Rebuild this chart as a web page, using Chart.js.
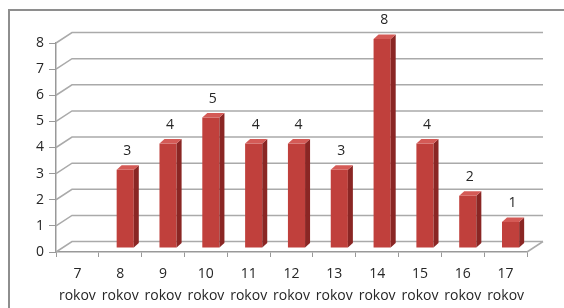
<!DOCTYPE html>
<html>
<head>
<meta charset="utf-8">
<script src="https://cdn.jsdelivr.net/npm/chart.js@4"></script>
<style>
html,body{margin:0;padding:0;background:#fff;}
#wrap{width:564px;height:308px;position:relative;}
</style>
</head>
<body>
<div id="wrap"><canvas id="c" width="564" height="308"></canvas></div>
<script>
const categories = [["7","rokov"],["8","rokov"],["9","rokov"],["10","rokov"],["11","rokov"],["12","rokov"],["13","rokov"],["14","rokov"],["15","rokov"],["16","rokov"],["17","rokov"]];
const counts = [0,3,4,5,4,4,3,8,4,2,1];
const yTicks = [0,1,2,3,4,5,6,7,8];

const DX = 16, DY = 10.5;     // depth of the back wall
const BX = 5, BY = -4;        // bar position in depth
const SX = 5, SY = 4.5;       // bar side / top depth
const FONT = '"Open Sans", Lato, sans-serif';

const threeD = {
  id: 'threeD',
  beforeDraw(chart) {
    const ctx = chart.ctx;
    ctx.save();
    ctx.strokeStyle = '#8e8e8e';
    ctx.lineWidth = 2;
    ctx.strokeRect(9, 10, 700, 400);
    ctx.restore();
  },
  beforeDatasetsDraw(chart) {
    const ctx = chart.ctx, y = chart.scales.y, a = chart.chartArea;
    ctx.save();
    yTicks.forEach(v => {
      const py = y.getPixelForValue(v);
      ctx.strokeStyle = '#aaaaaa';
      ctx.lineWidth = 1.5;
      ctx.beginPath();
      ctx.moveTo(a.left, py);
      ctx.lineTo(a.left + DX, py - DY);
      ctx.lineTo(a.right + DX, py - DY);
      ctx.stroke();
    });
    const p0 = y.getPixelForValue(0);
    ctx.beginPath();
    ctx.moveTo(a.right, p0);
    ctx.lineTo(a.right + DX, p0 - DY);
    ctx.stroke();
    ctx.restore();
  },
  beforeDatasetDraw(chart) {
    chart.ctx.save();
    chart.ctx.translate(BX, BY);
  },
  afterDatasetDraw(chart) {
    chart.ctx.restore();
  },
  afterDatasetsDraw(chart) {
    const ctx = chart.ctx;
    const meta = chart.getDatasetMeta(0);
    ctx.save();
    meta.data.forEach((bar, i) => {
      const v = counts[i];
      const p = bar.getProps(['x','y','base','width'], true);
      const l = p.x - p.width / 2 + BX, r = p.x + p.width / 2 + BX;
      const t = p.y + BY, b = p.base + BY;
      if (v > 0) {
        ctx.fillStyle = '#8a2624';
        ctx.beginPath();
        ctx.moveTo(r, t); ctx.lineTo(r + SX, t - SY); ctx.lineTo(r + SX, b - SY); ctx.lineTo(r, b);
        ctx.closePath(); ctx.fill();
        ctx.fillStyle = '#d45a56';
        ctx.beginPath();
        ctx.moveTo(l, t); ctx.lineTo(l + SX, t - SY); ctx.lineTo(r + SX, t - SY); ctx.lineTo(r, t);
        ctx.closePath(); ctx.fill();
        ctx.fillStyle = '#262626';
        ctx.font = '14px ' + FONT;
        ctx.textAlign = 'center';
        ctx.textBaseline = 'middle';
        ctx.fillText(String(v), (l + r) / 2 + 2, t - SY - 14);
      }
    });
    ctx.restore();
  }
};

new Chart(document.getElementById('c'), {
  type: 'bar',
  data: {
    labels: categories,
    datasets: [{
      data: counts,
      backgroundColor: '#c0403c',
      borderWidth: 0,
      barPercentage: 0.4,
      categoryPercentage: 1.0
    }]
  },
  options: {
    responsive: false,
    animation: false,
    devicePixelRatio: 1,
    layout: { padding: { top: 43, right: 37, left: 0, bottom: 0 } },
    plugins: { legend: { display: false }, tooltip: { enabled: false } },
    scales: {
      x: {
        offset: true,
        grid: { display: true, drawOnChartArea: false, drawTicks: true, tickLength: 5, color: '#999999', offset: true },
        border: { display: true, color: '#999999', width: 1.5 },
        ticks: { color: '#262626', font: { family: FONT, size: 14, lineHeight: 1.55 }, padding: 6, maxRotation: 0, autoSkip: false },
        afterFit(s) { s.height = 56; }
      },
      y: {
        min: 0, max: 8,
        afterBuildTicks(s) { s.ticks = yTicks.map(v => ({ value: v })); },
        grid: { display: true, drawOnChartArea: false, drawTicks: true, tickLength: 7, color: '#999999' },
        border: { display: true, color: '#999999', width: 1.5 },
        ticks: { color: '#262626', font: { family: FONT, size: 14 }, padding: 5 },
        afterFit(s) { s.width = 56; }
      }
    }
  },
  plugins: [threeD]
});
</script>
</body>
</html>
